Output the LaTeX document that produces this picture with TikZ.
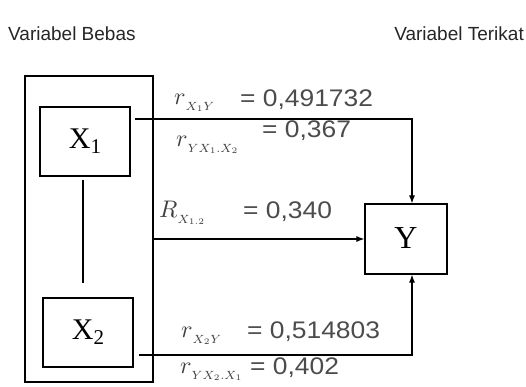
\documentclass[tikz,border=0pt]{standalone}
\usepackage{fontspec}
\usepackage{graphicx}
\setmainfont{Liberation Serif}
\newfontfamily\arialf{Liberation Sans}
\usetikzlibrary{arrows.meta,calc}
\newcommand{\biglab}[2]{\scalebox{2.4}{$#1$}\raisebox{-6pt}{\scalebox{1.7}{$\scriptstyle #2$}}}
\begin{document}
\begin{tikzpicture}[x=1pt,y=-1pt,
  box/.style={draw, line width=1.2pt, inner sep=0pt, minimum width=90pt, minimum height=69pt, font=\fontsize{30}{30}\selectfont},
  conn/.style={line width=1.1pt},
  arr/.style={conn, -{Latex[length=8pt,width=6pt]}},
  head/.style={inner sep=0pt, font=\arialf\fontsize{19}{19}\selectfont, text=black!85},
  val/.style={inner sep=0pt, anchor=base west, font=\arialf\fontsize{24}{24}\selectfont, text=black!70},
  lab/.style={inner sep=0pt, anchor=base west, text=black!75}
]
\useasboundingbox (0,0) rectangle (526,386);
\fill[white] (0,0) rectangle (526,386);

% headers
\node[head, anchor=base west] (hb) at (8,40) {Variabel Bebas};
\node[head, anchor=base east] (ht) at (524,40) {Variabel Terikat};

% boxes
\node[draw, line width=1.4pt, minimum width=128pt, minimum height=306pt, inner sep=0pt] (outer) at (89,229) {};
\node[box] (X1) at (85,141.5) {\raisebox{3pt}{X\raisebox{-5pt}{\fontsize{21}{21}\selectfont 1}}};
\node[box] (X2) at (88,332.5) {\raisebox{3pt}{X\raisebox{-5pt}{\fontsize{21}{21}\selectfont 2}}};
\node[box, minimum width=82pt, minimum height=70pt, font=\fontsize{32}{32}\selectfont] (Y) at (406,239) {\raisebox{2pt}{Y}};

% connectors
\coordinate (s1) at (135,119);
\coordinate (s2) at (139,355);
\draw[conn] ([shift={(-2,3)}]X1.south) -- ([shift={(-5,-14)}]X2.north);
\draw[arr] (s1) -| ([xshift=6pt]Y.north);
\draw[arr] (outer.east |- Y.west) -- (Y.west);
\draw[arr] (s2) -| ([xshift=6pt]Y.south);

% labels
\node[lab] (r1) at (174,104) {\biglab{r}{X_1Y}};
\node[val] (v1) at (240,106) {\scalebox{1.1}[1]{= 0,491732}};
\node[lab] (r2) at (176,146) {\biglab{r}{YX_1.X_2}};
\node[val] (v2) at (262,137) {\scalebox{1.1}[1]{= 0,367}};
\node[lab] (r3) at (159,217) {\biglab{R}{X_{1.2}}};
\node[val] (v3) at (243,218) {\scalebox{1.1}[1]{= 0,340}};
\node[lab] (r4) at (181,337) {\biglab{r}{X_2Y}};
\node[val] (v4) at (247,338) {\scalebox{1.1}[1]{= 0,514803}};
\node[lab] (r5) at (180,373) {\biglab{r}{YX_2.X_1}};
\node[val] (v5) at (250,374) {\scalebox{1.1}[1]{= 0,402}};
\end{tikzpicture}
\end{document}
